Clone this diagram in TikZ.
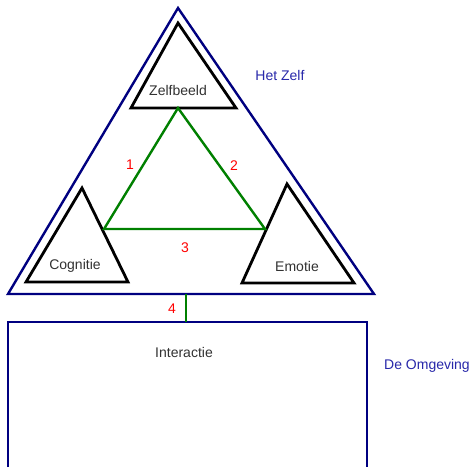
\documentclass[tikz,border=0pt]{standalone}
\usepackage{fontspec}
\setmainfont{Liberation Sans}
\usetikzlibrary{positioning}
\definecolor{ZelfBlue}{RGB}{0,0,128}
\definecolor{LabelBlue}{RGB}{40,40,170}
\definecolor{LinkGreen}{RGB}{0,128,0}
\definecolor{TextGray}{RGB}{50,50,50}
\tikzset{
  deel/.style={draw=black,line width=2.8pt,line join=miter},
  kader/.style={draw=ZelfBlue,line width=2.4pt,line join=miter},
  band/.style={draw=LinkGreen,line width=2.4pt},
  naam/.style={font=\fontsize{14}{16}\selectfont,text=TextGray,inner sep=0pt},
  nummer/.style={font=\fontsize{14}{16}\selectfont,text=red,inner sep=0pt},
  gebied/.style={font=\fontsize{14}{16}\selectfont,text=LabelBlue,inner sep=0pt}
}
\begin{document}
\begin{tikzpicture}[x=1pt,y=-1pt]
  \useasboundingbox[fill=white] (0,0) rectangle (474,467);
  % het zelf
  \draw[kader] (178,8) -- (374,294) -- (8,294) -- cycle;
  \draw[kader] (8,467) -- (8,322) -- (367,322) -- (367,467);
  % drie delen
  \draw[deel] (178,23) -- (236,108) -- (131,108) -- cycle;
  \draw[deel] (82,188) -- (128,282) -- (26,282) -- cycle;
  \draw[deel] (287,184) -- (354,283) -- (242,283) -- cycle;
  \node[naam] (zelfbeeld) at (178,90) {Zelfbeeld};
  \node[naam] (cognitie) at (75,266) {Cognitie};
  \node[naam] (emotie) at (297,266) {Emotie};
  % verbindingen
  \coordinate (zb) at (178,108);
  \coordinate (cog) at (104,229);
  \coordinate (emo) at (265,229);
  \coordinate (zelfvoet) at (186,294);
  \coordinate (omgtop) at (186,322);
  \draw[band] (zb) -- (cog) -- (emo) -- cycle;
  \draw[band] (zelfvoet) -- (omgtop);
  \node[nummer] (n1) at (130,165) {1};
  \node[nummer] (n2) at (234,166) {2};
  \node[nummer] (n3) at (185,248) {3};
  \node[nummer] (n4) at (172,309) {4};
  \node[naam] (interactie) at (184,352) {Interactie};
  \node[gebied] (hetzelf) at (280,75) {Het Zelf};
  \node[gebied] (omgeving) at (427,366) {De Omgeving};
\end{tikzpicture}
\end{document}
